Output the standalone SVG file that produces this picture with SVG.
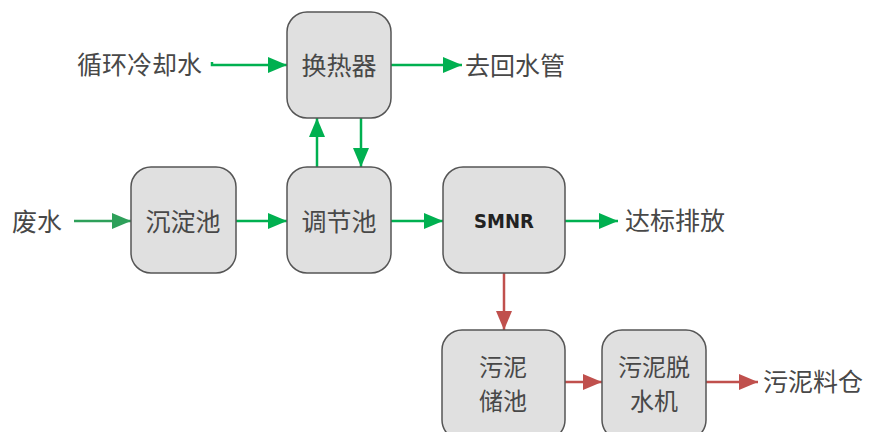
<svg xmlns="http://www.w3.org/2000/svg" width="869" height="432" viewBox="0 0 869 432">
<style>
.box{fill:#e0e0e0;stroke:#555;stroke-width:1.5}
.t{font-family:"Noto Sans CJK SC","Noto Sans",sans-serif;font-size:25px;fill:#484848;text-anchor:middle;dominant-baseline:central}
.t2{font-family:"Noto Sans CJK SC","Noto Sans",sans-serif;font-size:24px;fill:#484848;text-anchor:middle;dominant-baseline:central}
.l{font-family:"Noto Sans CJK SC","Noto Sans",sans-serif;font-size:25px;fill:#484848;dominant-baseline:central}
.s{font-family:"Liberation Sans Narrow","DejaVu Sans Condensed",sans-serif;font-size:20px;font-weight:bold;fill:#222;text-anchor:middle;dominant-baseline:central}
.g{stroke:#00b050;stroke-width:2.5;fill:none}
.g2{stroke:#2ea05a;stroke-width:2.5;fill:none}
.r{stroke:#c0504d;stroke-width:2.5;fill:none}
</style>
<defs>
<marker id="ag" markerUnits="userSpaceOnUse" markerWidth="20" markerHeight="18" refX="19" refY="8" orient="auto"><path d="M0,0 L19,8 L0,16 Z" fill="#00b050"/></marker>
<marker id="ag2" markerUnits="userSpaceOnUse" markerWidth="20" markerHeight="18" refX="19" refY="8" orient="auto"><path d="M0,0 L19,8 L0,16 Z" fill="#2ea05a"/></marker>
<marker id="ar" markerUnits="userSpaceOnUse" markerWidth="20" markerHeight="18" refX="19" refY="8" orient="auto"><path d="M0,0 L19,8 L0,16 Z" fill="#c0504d"/></marker>
</defs>
<rect width="869" height="432" fill="#fff"/>
<g id="connectors">
<path class="g" d="M212,62 L212,65 L287,65" marker-end="url(#ag)"/>
<path class="g" d="M391,65 L462,65" marker-end="url(#ag)"/>
<path class="g" d="M317,167 L317,118" marker-end="url(#ag)"/>
<path class="g" d="M361,118 L361,167" marker-end="url(#ag)"/>
<path class="g2" d="M74,221 L131,221" marker-end="url(#ag2)"/>
<path class="g" d="M236,221 L287,221" marker-end="url(#ag)"/>
<path class="g" d="M391,221 L443,221" marker-end="url(#ag)"/>
<path class="g" d="M565,221 L618,221" marker-end="url(#ag)"/>
<path class="r" d="M504,273 L504,330" marker-end="url(#ar)"/>
<path class="r" d="M565,382 L602,382" marker-end="url(#ar)"/>
<path class="r" d="M706,382 L758,382" marker-end="url(#ar)"/>
</g>
<g id="label-cooling"><text class="l" x="77" y="63">循环冷却水</text></g>
<g id="label-return"><text class="l" x="465" y="64">去回水管</text></g>
<g id="label-wastewater"><text class="l" x="12" y="220">废水</text></g>
<g id="label-discharge"><text class="l" x="625" y="219">达标排放</text></g>
<g id="label-silo"><text class="l" x="763" y="380">污泥料仓</text></g>
<g id="node-heat"><rect class="box" x="287" y="12" width="104" height="106" rx="20"/><text class="t" x="339" y="64">换热器</text></g>
<g id="node-settle"><rect class="box" x="131" y="167" width="105" height="106" rx="20"/><text class="t" x="183" y="220">沉淀池</text></g>
<g id="node-adjust"><rect class="box" x="287" y="167" width="104" height="106" rx="20"/><text class="t" x="339" y="220">调节池</text></g>
<g id="node-smnr"><rect class="box" x="443" y="167" width="122" height="106" rx="20"/><text class="s" x="504" y="221">SMNR</text></g>
<g id="node-sludge"><rect class="box" x="442" y="330" width="123" height="110" rx="20"/><text class="t2" x="503" y="365">污泥</text><text class="t2" x="503" y="399">储池</text></g>
<g id="node-dewater"><rect class="box" x="602" y="330" width="104" height="110" rx="20"/><text class="t2" x="654" y="365">污泥脱</text><text class="t2" x="654" y="399">水机</text></g>
</svg>
